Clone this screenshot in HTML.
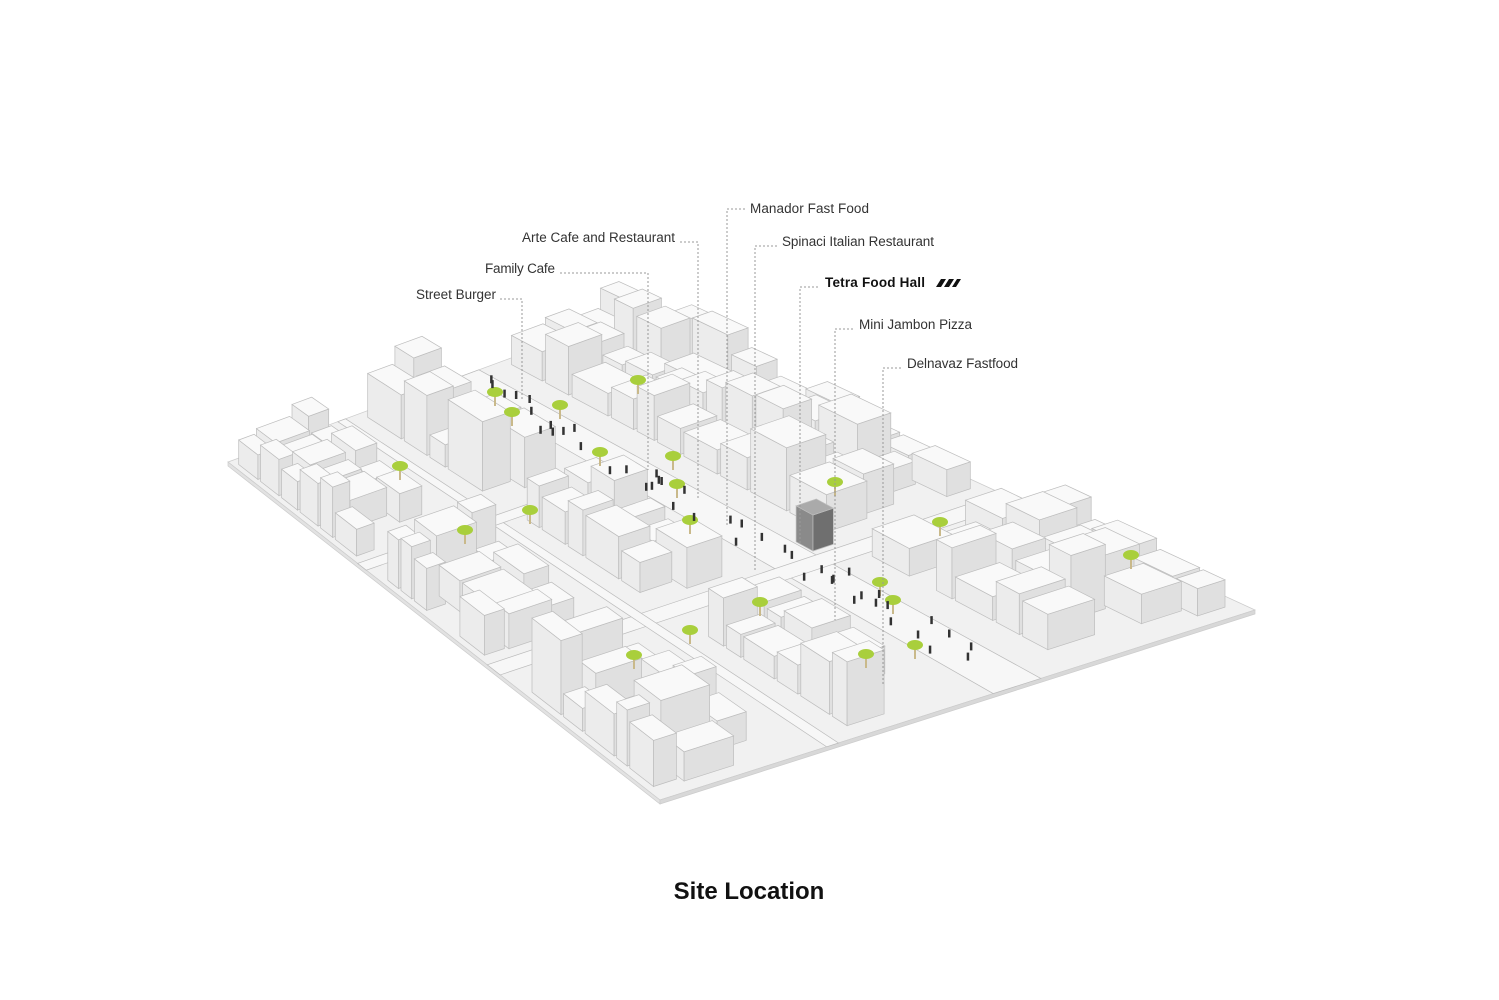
<!DOCTYPE html>
<html><head><meta charset="utf-8"><style>
html,body{margin:0;padding:0;background:#fff;}
svg{display:block;}
text{font-family:"Liberation Sans",Arial,sans-serif;}
</style></head><body>
<svg id="s" width="1499" height="1000" viewBox="0 0 1499 1000" xmlns="http://www.w3.org/2000/svg">
<rect width="1499" height="1000" fill="#fff"/>
<g id="city"></g>
<g id="lead" stroke="#999" stroke-width="1" stroke-dasharray="2,2" fill="none">
<path d="M745 209H727V525"/>
<path d="M680 242H698V500"/>
<path d="M560 273H648V470"/>
<path d="M500 299H522V400"/>
<path d="M777 246H755V570"/>
<path d="M818 287H800V545"/>
<path d="M853 329H835V620"/>
<path d="M901 368H883V685"/>
</g>
<g font-size="13.5" fill="#333">
<text x="750" y="213" textLength="119">Manador Fast Food</text>
<text x="522" y="242" textLength="153">Arte Cafe and Restaurant</text>
<text x="485" y="273" textLength="70">Family Cafe</text>
<text x="416" y="299" textLength="80">Street Burger</text>
<text x="782" y="246" textLength="152">Spinaci Italian Restaurant</text>
<text x="825" y="287" font-weight="bold" fill="#111" textLength="100">Tetra Food Hall</text>
<text x="859" y="329" textLength="113">Mini Jambon Pizza</text>
<text x="907" y="368" textLength="111">Delnavaz Fastfood</text>
</g>
<g fill="#111"><polygon points="936,287 941,279 946,279 941,287"/><polygon points="944,287 949,279 954,279 949,287"/><polygon points="952,287 957,279 961,279 956,287"/></g>
<text x="749" y="899" font-size="24" font-weight="bold" text-anchor="middle" fill="#111">Site Location</text>
</svg>
<script>
(function(){
var L=[228,462],T=[620,318],R=[1255,610],B=[660,800];
function P(s,t){return[(1-s)*(1-t)*L[0]+s*(1-t)*T[0]+(1-s)*t*B[0]+s*t*R[0],(1-s)*(1-t)*L[1]+s*(1-t)*T[1]+(1-s)*t*B[1]+s*t*R[1]];}
var seed=11;function rnd(){seed=(seed*16807)%2147483647;return seed/2147483647;}
var g=document.getElementById('city');var out=[];
function pt(p){return p[0].toFixed(1)+','+p[1].toFixed(1);}
function poly(ps,f,st){return '<polygon points="'+ps.map(pt).join(' ')+'" fill="'+f+'" stroke="'+(st||'#bdbdbd')+'" stroke-width="0.7"/>';}
out.push(poly([L,T,R,B],'#f1f1f1','#ccc'));
out.push(poly([L,B,[B[0],B[1]+4],[L[0],L[1]+4]],'#e2e2e2','#ccc'));
out.push(poly([B,R,[R[0],R[1]+4],[B[0],B[1]+4]],'#d8d8d8','#ccc'));
function band(s0,s1,t0,t1,c){out.push(poly([P(s0,t0),P(s1,t0),P(s1,t1),P(s0,t1)],c,'#bbb'));}
band(0.56,0.64,0,1,'#f7f7f7');
band(0,1,0.6,0.63,'#f7f7f7');
band(0.28,0.3,0,1,'#f7f7f7');
band(0,0.56,0.3,0.32,'#f7f7f7');
var boxes=[];
function inStreet(s,t,ds,dt){
 function ov(a0,a1,b0,b1){return a0<b1&&b0<a1;}
 if(ov(s,s+ds,0.555,0.645))return true;
 if(ov(t,t+dt,0.595,0.635))return true;
 if(ov(s,s+ds,0.275,0.305))return true;
 if(s<0.56&&ov(t,t+dt,0.295,0.325))return true;
 return false;}
var s=0.01;
while(s<0.98){var ds=0.045+rnd()*0.045;var t=0.01;
 while(t<0.98){var dt=0.03+rnd()*0.045;
  if(!inStreet(s,t,ds,dt)&&s+ds<0.99&&t+dt<0.99&&rnd()>0.03){
   boxes.push({s:s+0.003,t:t+0.003,ds:ds-0.006,dt:dt-0.006,h:22+rnd()*rnd()*65});}
  t+=dt;}
 s+=ds;}
boxes.push({s:0.645,t:0.56,ds:0.04,dt:0.03,h:36,dark:1});
boxes.sort(function(a,b){return P(a.s,a.t+a.dt)[1]-P(b.s,b.t+b.dt)[1];});
boxes.forEach(function(b){
 var a=P(b.s,b.t),c=P(b.s+b.ds,b.t),d=P(b.s+b.ds,b.t+b.dt),e=P(b.s,b.t+b.dt),h=b.h;
 function up(p){return[p[0],p[1]-h];}
 out.push(poly([a,e,up(e),up(a)],b.dark?'#8a8a8a':'#ececec'));
 out.push(poly([e,d,up(d),up(e)],b.dark?'#6f6f6f':'#e0e0e0'));
 out.push(poly([up(a),up(c),up(d),up(e)],b.dark?'#aaa':'#f9f9f9'));
});
var trees=[[495,392],[560,405],[638,380],[600,452],[673,456],[400,466],[530,510],[690,520],[465,530],[835,482],[940,522],[880,582],[893,600],[760,602],[690,630],[634,655],[866,654],[915,645],[1131,555],[512,412],[677,484]];
trees.forEach(function(p){
 out.push('<line x1="'+p[0]+'" y1="'+p[1]+'" x2="'+p[0]+'" y2="'+(p[1]+14)+'" stroke="#c9b98a" stroke-width="2"/>');
 out.push('<ellipse cx="'+p[0]+'" cy="'+p[1]+'" rx="8" ry="5" fill="#a9cf3c"/>');});
for(var i=0;i<45;i++){var tt=rnd(),ss=0.56+rnd()*0.08;var p=P(ss,tt);
 out.push('<rect x="'+(p[0]-1).toFixed(1)+'" y="'+(p[1]-7).toFixed(1)+'" width="2.5" height="8" fill="#333"/>');}
g.innerHTML=out.join('');
})();
</script>
</body></html>
